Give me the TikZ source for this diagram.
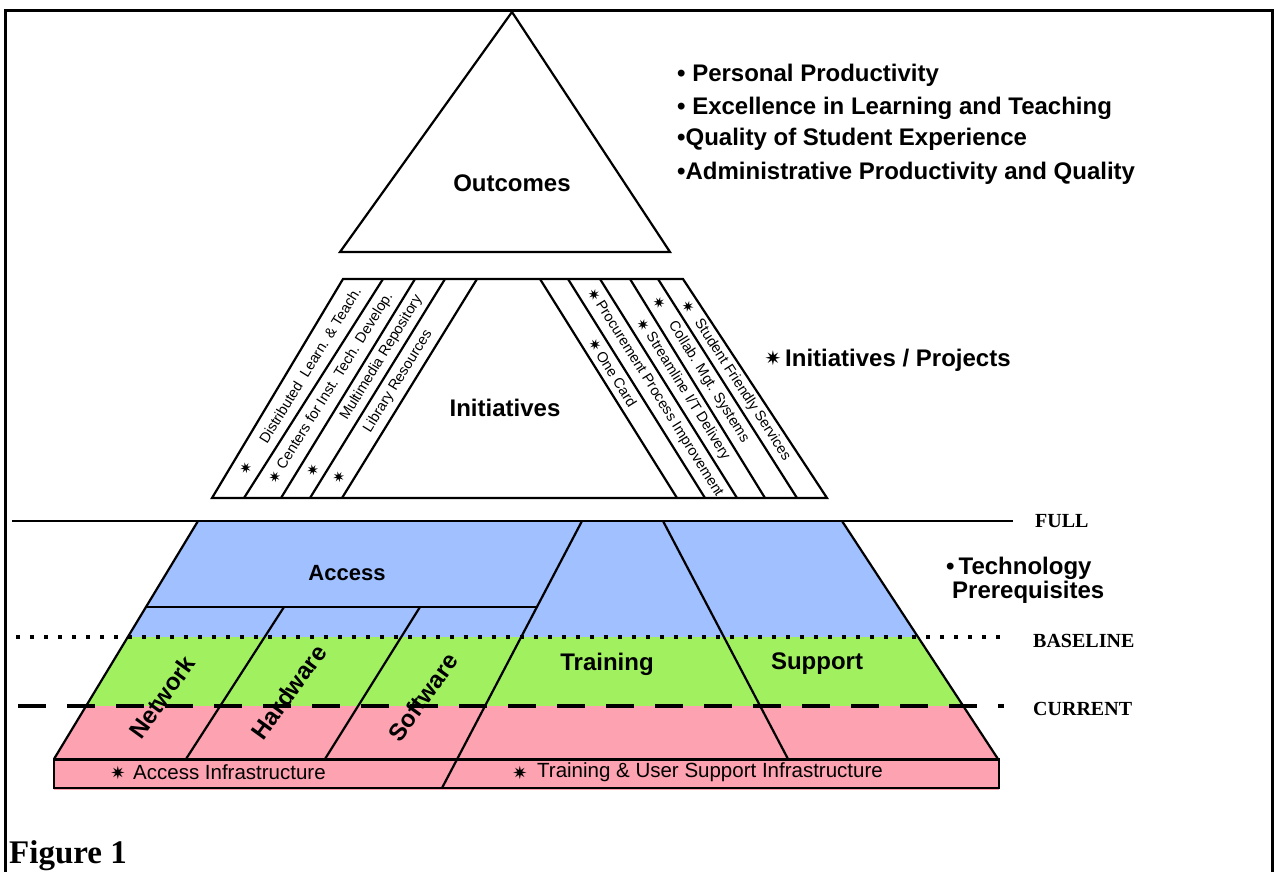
\documentclass[tikz,border=0pt]{standalone}
\usepackage{fontspec}
\setmainfont{Liberation Sans}
\newfontfamily\serifbold{Liberation Serif}
\newfontfamily\symfont{DejaVu Sans}
\usetikzlibrary{calc}
\definecolor{accblue}{RGB}{160,192,255}
\definecolor{prgreen}{RGB}{160,240,96}
\definecolor{curpink}{RGB}{252,162,176}
\newcommand{\fsz}[1]{\fontsize{#1}{#1}\selectfont}
\newcommand{\sstar}{{\symfont ✷}}

\begin{document}
\begin{tikzpicture}[x=1pt,y=-1pt,
  edge/.style={line width=2.2pt, line join=miter},
  thin edge/.style={line width=1.8pt},
  big/.style={font=\fsz{24}\bfseries, inner sep=0pt},
  stripe/.style={font=\fsz{14.5}, inner sep=0pt},
  stripestar/.style={font=\fsz{15}, inner sep=0pt},
  level/.style={font=\fsz{20}\serifbold\bfseries, inner sep=0pt, anchor=west},
  goal/.style={font=\fsz{24}\bfseries, inner sep=0pt, anchor=base west},
  infra/.style={font=\fsz{20.5}, inner sep=0pt, anchor=west}]

\useasboundingbox (0,0) rectangle (1275,871);

% page frame
\draw[line width=3pt] (5,875) -- (5,10) -- (1272,10) -- (1272,875);

% ---------- outcomes triangle ----------
\coordinate (oA) at (512,12);
\coordinate (oL) at (340,252);
\coordinate (oR) at (670,252);
\draw[edge] (oL) -- (oA) -- (oR) -- cycle;
\node[big] (outcomes) at (512,183) {Outcomes};

% ---------- initiatives trapezoid with project stripes ----------
\foreach \n/\t/\b in {0/343/212,1/383/244,2/415/281,3/445/310,4/477/342}{
  \coordinate (L\n t) at (\t,279);
  \coordinate (L\n b) at (\b,498);
}
\foreach \n/\t/\b in {0/540/677,1/568/705,2/600/737,3/630/765,4/658/797,5/683/827}{
  \coordinate (R\n t) at (\t,279);
  \coordinate (R\n b) at (\b,498);
}
\draw[edge] (L0b) -- (L0t) -- (R5t) -- (R5b) -- cycle;
\foreach \n in {1,2,3,4}{ \draw[edge] (L\n t) -- (L\n b); }
\foreach \n in {0,1,2,3,4}{ \draw[edge] (R\n t) -- (R\n b); }
\node[big] (initiatives) at (505,408) {Initiatives};

% left stripes: text reads upwards
\path (228,498) -- (363,279)
  node[stripestar, pos=0.137, sloped] (s1star) {\sstar}
  node[stripe, pos=0.607, sloped] (s1) {Distributed\ \ Learn. \& Teach.};
\path (262.5,498) -- (399,279)
  node[stripestar, pos=0.096, sloped] (s2star) {\sstar}
  node[stripe, pos=0.534, sloped] (s2) {Centers for Inst. Tech. Develop.};
\path (295.5,498) -- (430,279)
  node[stripestar, pos=0.128, sloped] (s3star) {\sstar}
  node[stripe, pos=0.64, sloped] (s3) {Multimedia Repository};
\path (326,498) -- (461,279)
  node[stripestar, pos=0.096, sloped] (s4star) {\sstar}
  node[stripe, pos=0.534, sloped] (s4) {Library Resources};

% right stripes: text reads downwards
\path (554,279) -- (691,498)
  node[stripestar, pos=0.30, sloped] (t1star) {\sstar}
  node[stripe, pos=0.335, sloped, anchor=west] (t1) {One Card};
\path (584,279) -- (721,498)
  node[stripestar, pos=0.073, sloped] (t2star) {\sstar}
  node[stripe, pos=0.105, sloped, anchor=west] (t2) {Procurement Process Improvement};
\path (615,279) -- (751,498)
  node[stripestar, pos=0.21, sloped] (t3star) {\sstar}
  node[stripe, pos=0.25, sloped, anchor=west] (t3) {Streamline I/T Delivery};
\path (644,279) -- (781,498)
  node[stripestar, pos=0.11, sloped] (t4star) {\sstar}
  node[stripe, pos=0.20, sloped, anchor=west] (t4) {Collab. Mgt. Systems};
\path (670.5,279) -- (812,498)
  node[stripestar, pos=0.128, sloped] (t5star) {\sstar}
  node[stripe, pos=0.19, sloped, anchor=west] (t5) {Student Friendly Services};

% ---------- goals and legends on the right ----------
\node[goal] (g1) at (677,81) {\textbullet\ Personal Productivity};
\node[goal] (g2) at (677,114) {\textbullet\ Excellence in Learning and Teaching};
\node[goal] (g3) at (677,145) {\textbullet Quality of Student Experience};
\node[goal] (g4) at (677,179) {\textbullet Administrative Productivity and Quality};
\node[font=\fsz{20}, inner sep=0pt] (projstar) at (773,358) {\sstar};
\node[goal] (proj) at (785,366) {Initiatives / Projects};
\node[goal] (tech1) at (946,574) {\textbullet\,Technology};
\node[goal] (tech2) at (952,598) {Prerequisites};

% ---------- technology prerequisites pyramid ----------
\coordinate (pTL) at (198,521);
\coordinate (pTR) at (842,521);
\coordinate (pBL) at (54,759);
\coordinate (pBR) at (998,759);
\begin{scope}
  \clip (pTL) -- (pTR) -- (pBR) -- (pBL) -- cycle;
  \fill[accblue] (0,515) rectangle (1275,637);
  \fill[prgreen] (0,637) rectangle (1275,706);
  \fill[curpink] (0,706) rectangle (1275,765);
\end{scope}

% infrastructure base
\coordinate (boxTL) at (54,759);
\coordinate (boxBR) at (999,788);
\fill[curpink] (54,760) rectangle (999,790);
\draw[line width=1.5pt] (boxTL) rectangle (boxBR);

% level lines
\coordinate (fullL) at (12,521);
\coordinate (fullR) at (1013,521);
\coordinate (baseL) at (16,637);
\coordinate (baseR) at (1002,637);
\coordinate (curL) at (18,706);
\coordinate (curR) at (1004,706);
\draw[line width=3.8pt, dash pattern=on 4pt off 10pt] (baseL) -- (baseR);
\draw[line width=4pt, dash pattern=on 28pt off 21pt] (curL) -- (curR);
\draw[line width=2.8pt] (fullL) -- (fullR);

% internal dividers
\coordinate (sepL) at (146,607);
\coordinate (sepR) at (537,607);
\coordinate (divT) at (582,521);
\coordinate (divE) at (442,788);
\coordinate (nhT) at (284,607);
\coordinate (nhB) at (186,759);
\coordinate (hsT) at (420,607);
\coordinate (hsB) at (325,759);
\coordinate (tsT) at (663,521);
\coordinate (tsB) at (788,759);
\draw[thin edge] (sepL) -- (sepR);
\draw[edge] (divT) -- (divE);
\draw[edge] (nhT) -- (nhB);
\draw[edge] (hsT) -- (hsB);
\draw[edge] (tsT) -- (tsB);

% pyramid outline
\draw[edge] (pBL) -- (pTL);
\draw[edge] (pTR) -- (pBR);
\draw[line width=3pt] (pBL) -- (pBR);

% pyramid labels
\node[big, font=\fsz{22}\bfseries] (access) at (347,573) {Access};
\node[big] (training) at (607,664) {Training};
\node[big] (support) at (817,664) {Support};
\node[big, rotate=54] (network) at (162,697) {Network};
\node[big, rotate=54] (hardware) at (289,692) {Hardware};
\node[big, rotate=54] (software) at (423,697) {Software};
\node[font=\fsz{18}, inner sep=0pt] (a1star) at (118,773) {\sstar};
\node[infra] (accinf) at (133,772) {Access Infrastructure};
\node[font=\fsz{18}, inner sep=0pt] (a2star) at (520,773) {\sstar};
\node[infra] (trinf) at (537,772) {Training \& User Support Infrastructure};

% level names
\node[level] (full) at (1035,521) {FULL};
\node[level] (baseline) at (1033,641) {BASELINE};
\node[level] (current) at (1033,709) {CURRENT};

% caption
\node[font=\fsz{33}\serifbold\bfseries, inner sep=0pt, anchor=base west] (fig) at (9,863) {Figure 1};

\end{tikzpicture}
\end{document}
